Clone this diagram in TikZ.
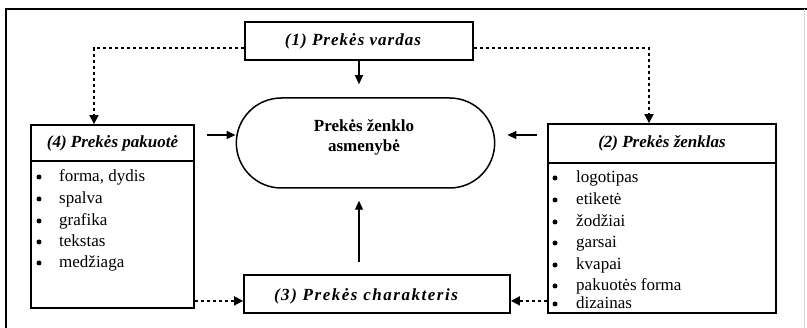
\documentclass[tikz,border=0pt]{standalone}
\usepackage{fontspec}
\setmainfont{Liberation Serif}
\usetikzlibrary{arrows.meta,shapes.misc}
\begin{document}
\begin{tikzpicture}[x=1pt,y=-1pt,
  box/.style={draw, line width=1.8pt, inner sep=0pt},
  head/.style={font=\fontsize{17}{20}\selectfont\bfseries\itshape, inner sep=0pt},
  item/.style={font=\fontsize{17}{20}\selectfont, anchor=base west, inner sep=0pt},
  bul/.style={circle, fill, inner sep=0pt, minimum size=5pt},
  arr/.style={line width=1.3pt, -{Triangle[length=9pt,width=8pt]}},
  link/.style={line width=1.7pt, dash pattern=on 3pt off 3pt, -{Triangle[length=9pt,width=9pt]}},
]
\useasboundingbox (0,0) rectangle (807,328);
\fill[white] (0,0) rectangle (807,328);

% outer frame
\draw[line width=1.6pt] (6,330) -- (6,9) -- (808,9);
\draw[gray!35, line width=0.8pt] (804,9) -- (804,330);

% (1) name
\node[box, minimum width=228pt, minimum height=38pt] (b1) at (359,41) {};
\node[head] (t1) at (353,41) {\addfontfeature{LetterSpace=6}(1) Prekės vardas};

% central personality
\node[draw, line width=1.5pt, rounded rectangle, minimum width=265pt, minimum height=90pt] (st) at (365.5,143) {};
\node[font=\fontsize{17}{20}\selectfont\bfseries, align=center, inner sep=0pt] (stt) at (364,137) {Prekės ženklo\\asmenybė};

% (4) packaging
\node[box, minimum width=163pt, minimum height=183pt] (b4) at (112.5,216.5) {};
\draw[line width=1.8pt] (b4.west |- 0,161) -- (b4.east |- 0,161);
\node[head] (t4) at (112.5,143) {(4) Prekės pakuotė};
\foreach \t/\y [count=\i] in {forma{,} dydis/177, spalva/199, grafika/221, tekstas/242, medžiaga/263}{
  \node[bul] (p\i) at (39,\y) {};
  \node[item] (q\i) at (59,\y+5) {\t};
}

% (2) trademark
\node[box, minimum width=228pt, minimum height=189pt] (b2) at (662,218.5) {};
\draw[line width=1.8pt] (b2.west |- 0,163) -- (b2.east |- 0,163);
\node[head] (t2) at (662,143.5) {(2) Prekės ženklas};
\foreach \t/\y [count=\i] in {logotipas/178, etiketė/200, žodžiai/222, garsai/243, kvapai/265, pakuotės forma/286, dizainas/304}{
  \node[bul] (m\i) at (555,\y) {};
  \node[item] (n\i) at (576,\y+5) {\t};
}

% (3) character
\node[box, minimum width=266pt, minimum height=38pt] (b3) at (377,294) {};
\node[head] (t3) at (366,296) {\addfontfeature{LetterSpace=9}(3) Prekės charakteris};

% solid arrows towards the centre
\coordinate (r4) at (207,135);
\coordinate (l2) at (537,135);
\draw[arr, shorten >=13pt] (b1.south) -- (b1.south |- st.north);
\draw[arr, shorten <=12pt, shorten >=12pt] (b1.south |- b3.north) -- (b1.south |- st.south);
\draw[arr] (r4) -- (st.west |- r4);
\draw[arr, shorten >=12pt] (l2) -- (st.east |- l2);

% dotted links
\draw[link] ([yshift=-7pt]b1.west) -| ([xshift=-18.5pt]b4.north);
\draw[link] ([yshift=-7pt]b1.east) -| ([xshift=-13pt]b2.north);
\draw[link] ([yshift=8pt]b4.south east) -- ([yshift=8pt]b4.south east -| b3.west);
\draw[link] ([yshift=13pt]b2.south west) -- ([yshift=13pt]b2.south west -| b3.east);
\end{tikzpicture}
\end{document}
